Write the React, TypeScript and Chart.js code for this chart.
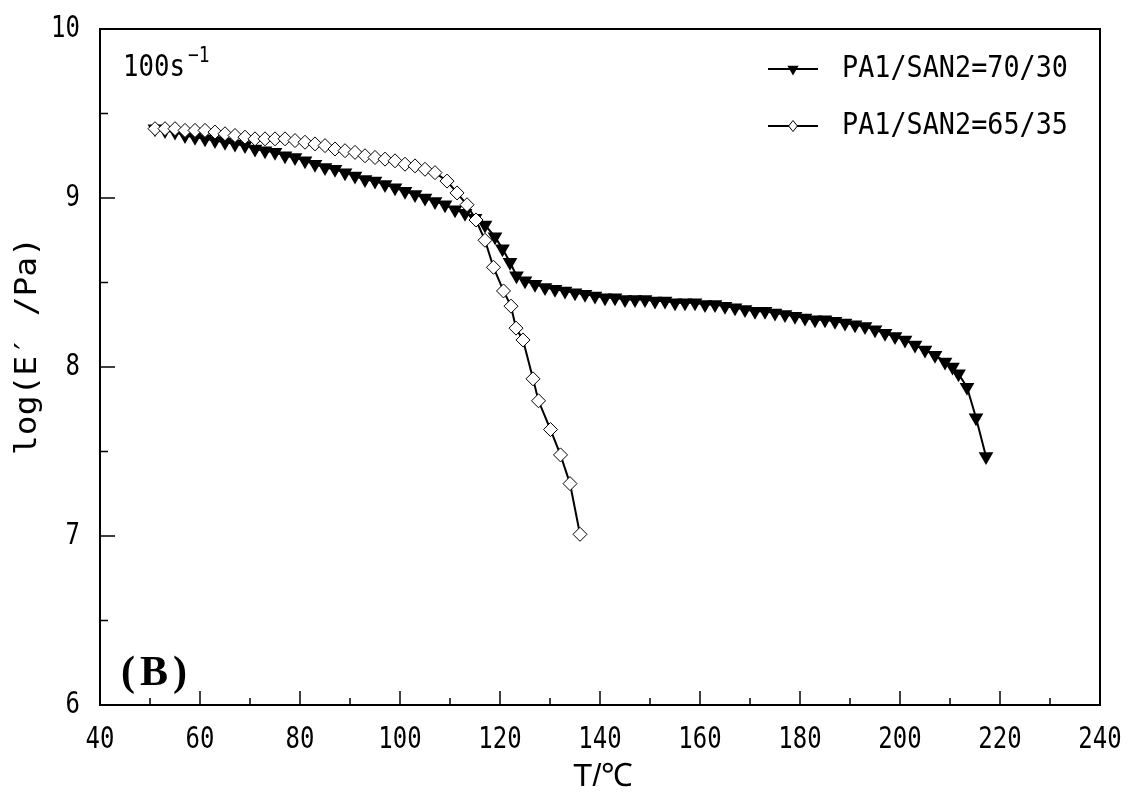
import React, { useEffect, useRef } from "react";
import { Chart, registerables } from "chart.js";

Chart.register(...registerables);

// ---- data ----
const tempA = [
  51, 53, 55, 57, 59, 61, 63, 65, 67, 69, 71, 73, 75, 77, 79, 81, 83, 85, 87, 89,
  91, 93, 95, 97, 99, 101, 103, 105, 107, 109, 111, 113, 115, 117, 119, 120.5, 122, 123.3,
  125, 127, 129, 131, 133, 135, 137, 139, 141, 143, 145, 147, 149, 151, 153, 155, 157, 159,
  161, 163, 165, 167, 169, 171, 173, 175, 177, 179, 181, 183, 185, 187, 189, 191, 193, 195,
  197, 199, 201, 203, 205, 207, 209, 210.5, 211.7, 213.4, 215.2, 217.2,
];
const logEA = [
  9.41, 9.4, 9.39, 9.37, 9.36, 9.35, 9.34, 9.33, 9.32, 9.31, 9.29, 9.28, 9.27, 9.25, 9.24, 9.22, 9.2, 9.18, 9.17, 9.15,
  9.13, 9.11, 9.1, 9.08, 9.06, 9.04, 9.02, 9.0, 8.98, 8.96, 8.93, 8.91, 8.88, 8.84, 8.77, 8.7, 8.62, 8.54,
  8.51, 8.49, 8.47, 8.46, 8.45, 8.44, 8.43, 8.42, 8.41, 8.41, 8.4, 8.4, 8.4, 8.39, 8.39, 8.38, 8.38, 8.38,
  8.37, 8.37, 8.36, 8.35, 8.34, 8.33, 8.33, 8.32, 8.31, 8.3, 8.29, 8.28, 8.28, 8.27, 8.26, 8.25, 8.24, 8.22,
  8.2, 8.18, 8.16, 8.13, 8.1, 8.07, 8.03, 8.0, 7.96, 7.88, 7.7, 7.47,
];
const tempB = [
  51, 53, 55, 57, 59, 61, 63, 65, 67, 69, 71, 73, 75, 77, 79, 81, 83, 85, 87, 89,
  91, 93, 95, 97, 99, 101, 103, 105, 107, 109.4, 111.4, 113.4, 115.2, 117, 118.7, 120.7,
  122.2, 123.2, 124.6, 126.6, 127.7, 130.1, 132.1, 134, 136,
];
const logEB = [
  9.41, 9.41, 9.41, 9.4, 9.4, 9.4, 9.39, 9.38, 9.37, 9.36, 9.35, 9.35, 9.35, 9.35, 9.34, 9.33, 9.32, 9.31, 9.29, 9.28,
  9.27, 9.25, 9.24, 9.23, 9.22, 9.2, 9.19, 9.17, 9.15, 9.1, 9.03, 8.96, 8.87, 8.75, 8.59, 8.45,
  8.36, 8.23, 8.16, 7.93, 7.8, 7.63, 7.48, 7.31, 7.01,
];
const seriesLabels = ["PA1/SAN2=70/30", "PA1/SAN2=65/35"];
const xMajorTicks = [40, 60, 80, 100, 120, 140, 160, 180, 200, 220, 240];
const xMinorTicks = [50, 70, 90, 110, 130, 150, 170, 190, 210, 230];
const yMajorTicks = [6, 7, 8, 9, 10];
const yMinorTicks = [6.5, 7.5, 8.5, 9.5];
const xTitle = "T/℃";
const yTitle = "log(E′ /Pa)";
const rateText = "100s";
const rateSup = "−1";
const panelText = "(B)";

const MONO = "'DejaVu Sans Mono', 'Liberation Mono', monospace";
const SANS = "'Liberation Sans', Arial, sans-serif";
const SERIF = "'Liberation Serif', 'Times New Roman', serif";

// draw text squeezed horizontally by sx
function drawText(
  ctx: CanvasRenderingContext2D,
  s: string,
  x: number,
  y: number,
  font: string,
  align: CanvasTextAlign,
  baseline: CanvasTextBaseline,
  sx = 1,
  spacing = 0
) {
  ctx.save();
  ctx.font = font;
  (ctx as any).letterSpacing = spacing + "px";
  ctx.textAlign = align;
  ctx.textBaseline = baseline;
  ctx.fillStyle = "#000";
  ctx.translate(x, y);
  ctx.scale(sx, 1);
  ctx.fillText(s, 0, 0);
  ctx.restore();
}

function fitScale(ctx: CanvasRenderingContext2D, s: string, font: string, width: number) {
  ctx.save();
  ctx.font = font;
  const w = ctx.measureText(s).width;
  ctx.restore();
  return width / w;
}

function downTriangle(ctx: CanvasRenderingContext2D, x: number, y: number, r: number) {
  ctx.beginPath();
  ctx.moveTo(x - r * 0.866, y - r * 0.5);
  ctx.lineTo(x + r * 0.866, y - r * 0.5);
  ctx.lineTo(x, y + r);
  ctx.closePath();
  ctx.fillStyle = "#000";
  ctx.fill();
}

function diamond(ctx: CanvasRenderingContext2D, x: number, y: number, r: number) {
  ctx.beginPath();
  ctx.moveTo(x, y - r);
  ctx.lineTo(x + r * 0.8, y);
  ctx.lineTo(x, y + r);
  ctx.lineTo(x - r * 0.8, y);
  ctx.closePath();
  ctx.fillStyle = "#fff";
  ctx.fill();
  ctx.strokeStyle = "#000";
  ctx.lineWidth = 1;
  ctx.stroke();
}

const decorPlugin = {
  id: "decor",
  afterDraw(chart: any) {
    const ctx: CanvasRenderingContext2D = chart.ctx;
    const { left, right, top, bottom } = chart.chartArea;
    const xs = chart.scales.x;
    const ys = chart.scales.y;
    ctx.save();
    // frame
    ctx.strokeStyle = "#000";
    ctx.lineWidth = 2;
    ctx.strokeRect(left, top, right - left, bottom - top);
    // ticks inside
    ctx.lineWidth = 1.5;
    ctx.beginPath();
    xMajorTicks.forEach((v) => {
      const px = xs.getPixelForValue(v);
      ctx.moveTo(px, bottom);
      ctx.lineTo(px, bottom - 14);
    });
    xMinorTicks.forEach((v) => {
      const px = xs.getPixelForValue(v);
      ctx.moveTo(px, bottom);
      ctx.lineTo(px, bottom - 7);
    });
    yMajorTicks.forEach((v) => {
      const py = ys.getPixelForValue(v);
      ctx.moveTo(left, py);
      ctx.lineTo(left + 15, py);
    });
    yMinorTicks.forEach((v) => {
      const py = ys.getPixelForValue(v);
      ctx.moveTo(left, py);
      ctx.lineTo(left + 8, py);
    });
    ctx.stroke();

    // tick labels
    const tickFont = `30px ${MONO}`;
    xMajorTicks.forEach((v) => {
      drawText(ctx, String(v), xs.getPixelForValue(v), 740, tickFont, "center", "middle", 0.8);
    });
    yMajorTicks.forEach((v) => {
      drawText(ctx, String(v), 80, ys.getPixelForValue(v), tickFont, "right", "middle", 0.8);
    });

    // axis titles
    const xtFont = `32px ${SANS}`;
    drawText(ctx, xTitle, 603, 777, xtFont, "center", "middle", fitScale(ctx, xTitle, xtFont, 60));
    ctx.save();
    ctx.translate(28, 346);
    ctx.rotate(-Math.PI / 2);
    const ytFont = `31px ${MONO}`;
    drawText(ctx, yTitle, 0, 0, ytFont, "center", "middle", fitScale(ctx, yTitle, ytFont, 218));
    ctx.restore();

    // annotations
    const rFont = `30px ${MONO}`;
    drawText(ctx, rateText, 123, 76, rFont, "left", "alphabetic", fitScale(ctx, rateText, rFont, 62));
    drawText(ctx, rateSup, 188, 62, `21px ${MONO}`, "left", "alphabetic", 0.85);
    drawText(ctx, panelText, 121, 685, `bold 42px ${SERIF}`, "left", "alphabetic", 1, 5);

    // legend
    const legY = [69, 126];
    const lFont = `30px ${MONO}`;
    legY.forEach((ly, i) => {
      ctx.strokeStyle = "#000";
      ctx.lineWidth = 2;
      ctx.beginPath();
      ctx.moveTo(768, ly);
      ctx.lineTo(818, ly);
      ctx.stroke();
      if (i === 0) downTriangle(ctx, 793, ly, 6.5);
      else diamond(ctx, 793, ly, 5.5);
      drawText(ctx, seriesLabels[i], 842, ly, lFont, "left", "middle", fitScale(ctx, seriesLabels[i], lFont, 226));
    });
    ctx.restore();
  },
};

export default function App() {
  const ref = useRef<HTMLCanvasElement | null>(null);
  useEffect(() => {
    document.body.style.margin = "0";
    const canvas = ref.current!;
    const chart = new Chart(canvas, {
      type: "line",
      data: {
        datasets: [
          {
            label: seriesLabels[0],
            data: tempA.map((t, i) => ({ x: t, y: logEA[i] })),
            borderColor: "#000",
            backgroundColor: "#000",
            borderWidth: 2,
            pointStyle: "triangle",
            pointRotation: 180,
            pointRadius: 8.5,
            pointBorderWidth: 0,
            pointBackgroundColor: "#000",
            order: 1,
          },
          {
            label: seriesLabels[1],
            data: tempB.map((t, i) => ({ x: t, y: logEB[i] })),
            borderColor: "#000",
            backgroundColor: "#fff",
            borderWidth: 2,
            pointStyle: "rectRot",
            pointRadius: 7,
            pointBorderWidth: 1,
            pointBorderColor: "#000",
            pointBackgroundColor: "#fff",
            order: 0,
          },
        ],
      },
      options: {
        responsive: false,
        animation: false,
        events: [],
        layout: { padding: { top: 29, right: 30, left: 0, bottom: 0 } },
        plugins: { legend: { display: false }, tooltip: { enabled: false } },
        scales: {
          x: {
            type: "linear",
            min: 40,
            max: 240,
            afterFit: (s: any) => {
              s.height = 92;
              s.paddingLeft = 0;
              s.paddingRight = 0;
            },
            grid: { display: false, drawTicks: false },
            border: { display: false },
            ticks: { display: false, stepSize: 20 },
          },
          y: {
            type: "linear",
            min: 6,
            max: 10,
            afterFit: (s: any) => {
              s.width = 100;
              s.paddingTop = 0;
              s.paddingBottom = 0;
            },
            grid: { display: false, drawTicks: false },
            border: { display: false },
            ticks: { display: false, stepSize: 1 },
          },
        },
      },
      plugins: [decorPlugin],
    } as any);
    return () => chart.destroy();
  }, []);
  return (
    <div style={{ position: "absolute", left: 0, top: 0, width: 1130, height: 797, background: "#fff" }}>
      <canvas ref={ref} width={1130} height={797} />
    </div>
  );
}
